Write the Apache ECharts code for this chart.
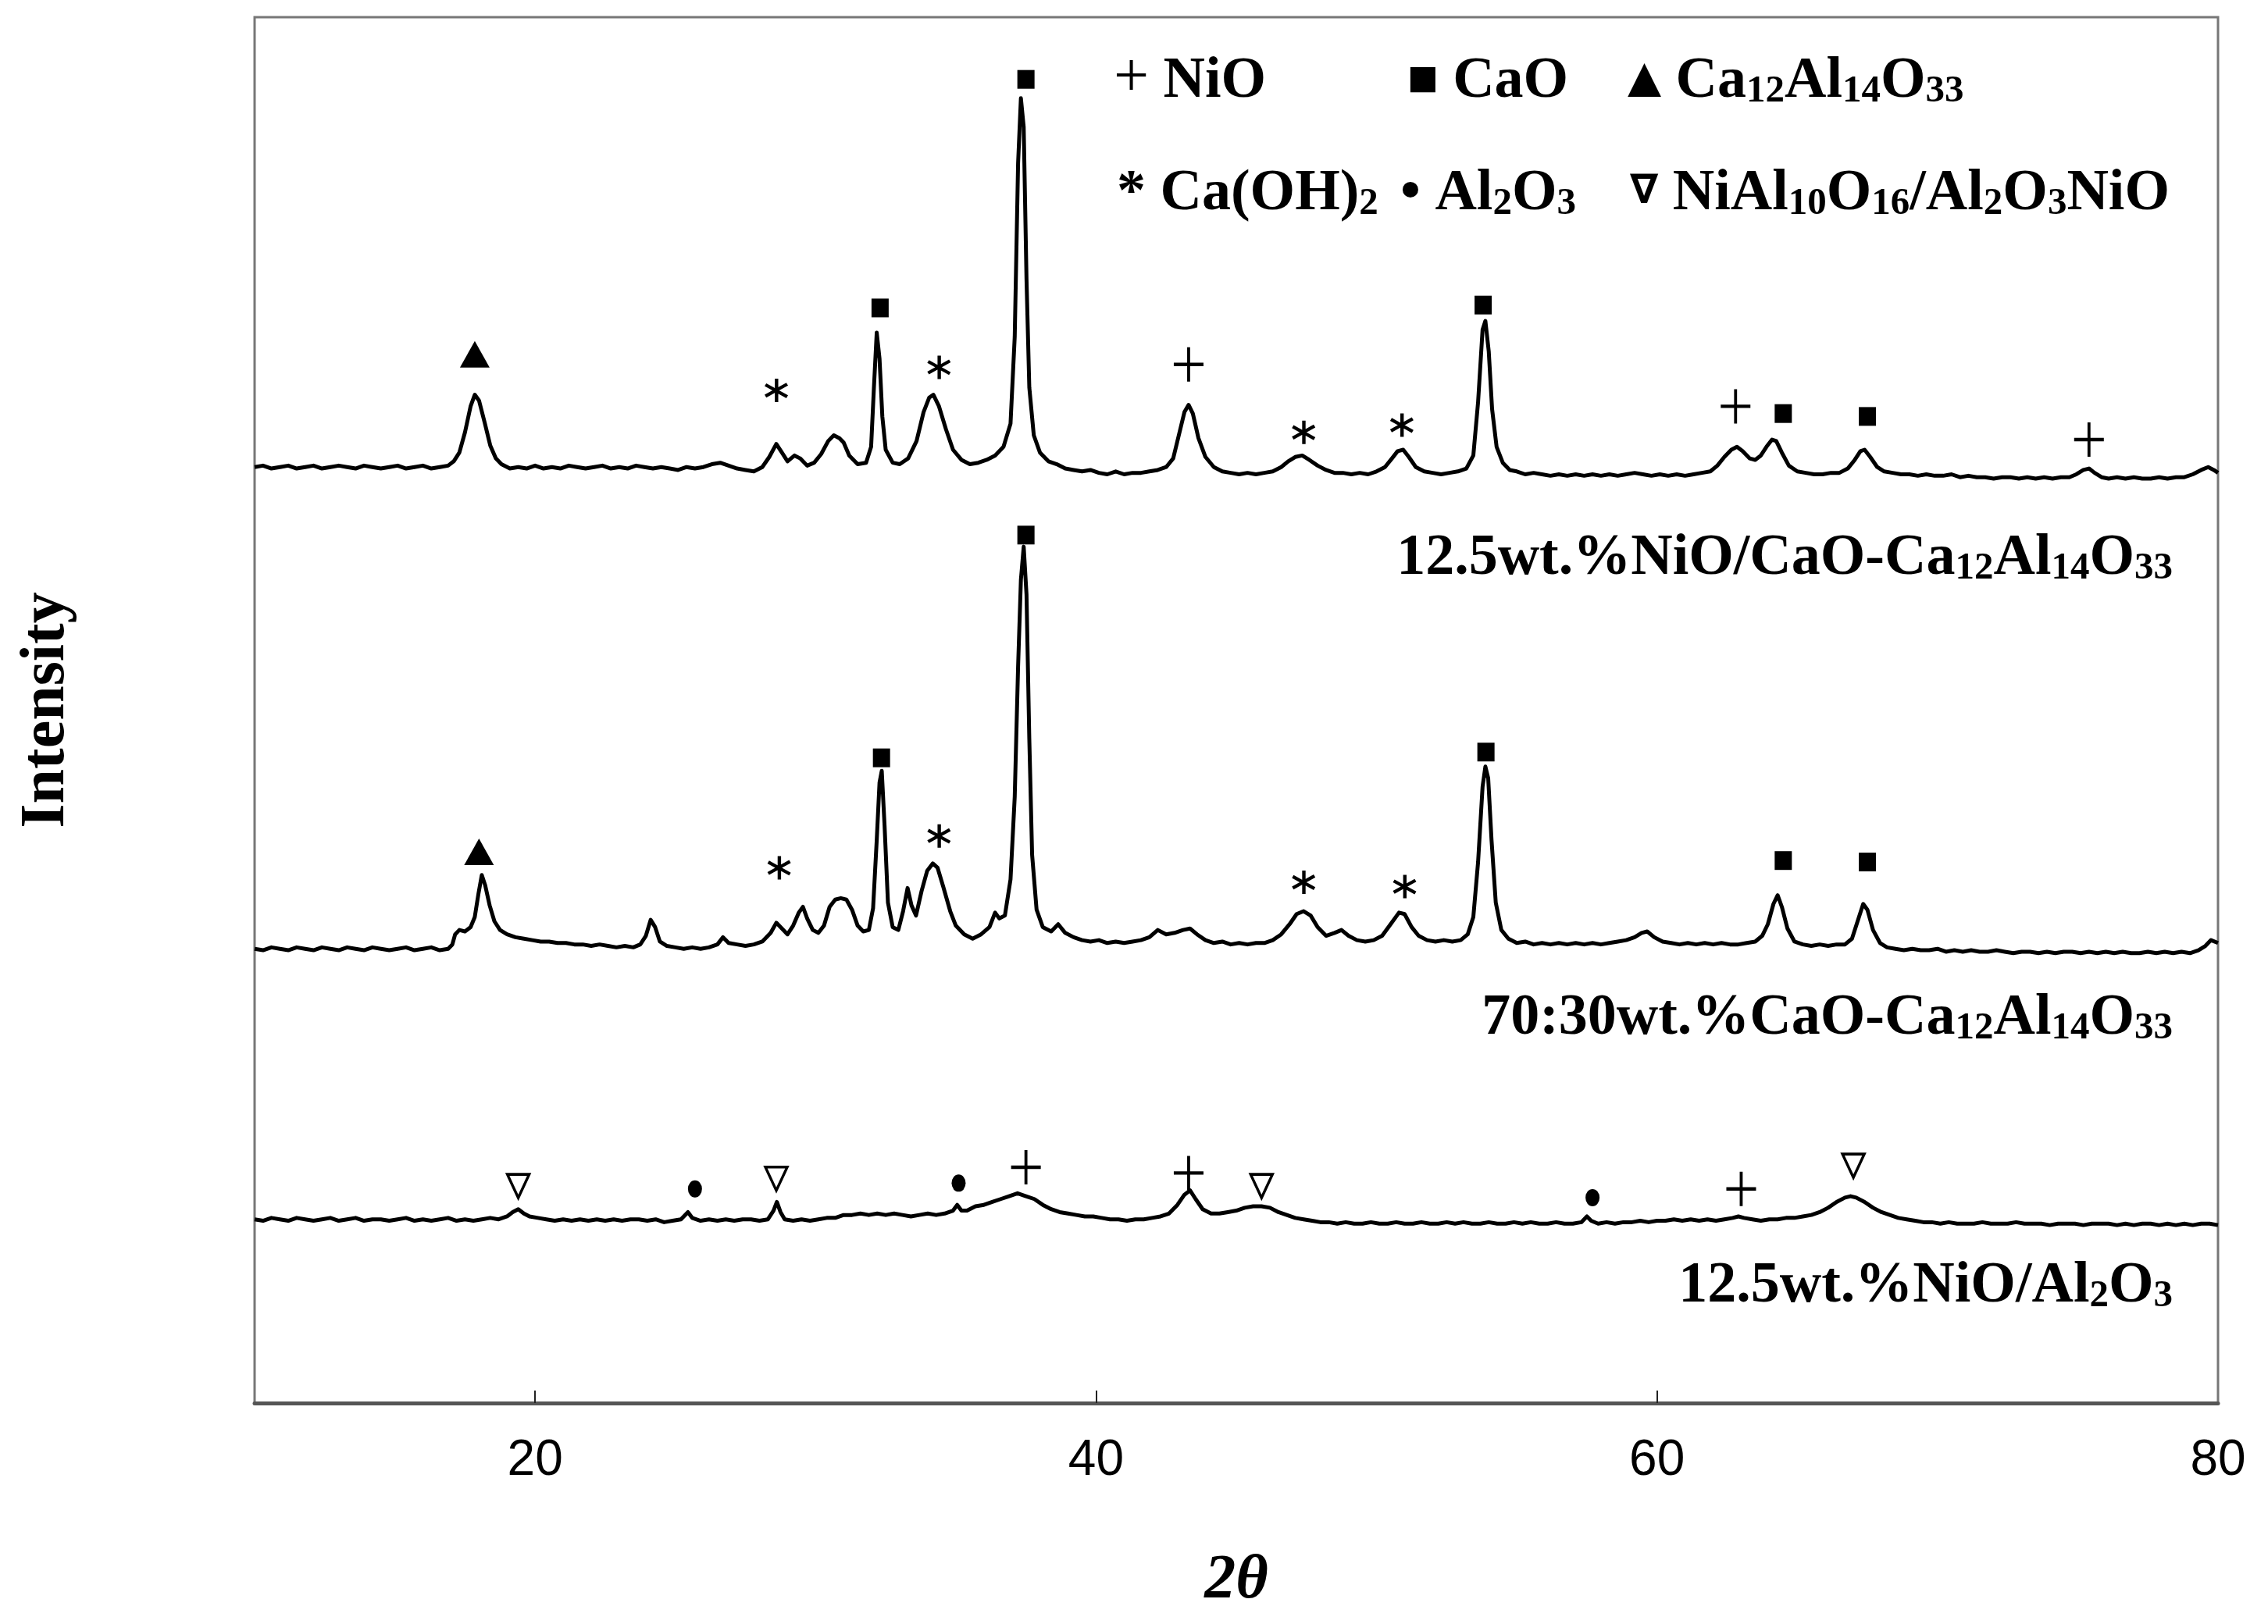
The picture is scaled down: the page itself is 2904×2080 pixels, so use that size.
<!DOCTYPE html>
<html><head><meta charset="utf-8">
<script src="https://cdn.jsdelivr.net/npm/echarts@6/dist/echarts.min.js"></script>
<style>html,body{margin:0;padding:0;background:#fff}#c{width:2904px;height:2080px}</style>
</head><body><div id="c"></div>
<script>
// ---------- DATA ----------
const xLabelValues = [20, 40, 60, 80];
const xTickValues = [20, 40, 60];
const sampleNames = ['12.5wt.%NiO/CaO-Ca12Al14O33', '70:30wt.%CaO-Ca12Al14O33', '12.5wt.%NiO/Al2O3'];
// vertical offsets of the stacked patterns (a.u.)
const offsets = [647, 314, 127];

// 12.5wt.% NiO/CaO-Ca12Al14O33  [2θ, intensity a.u.]
const patNiOCaOC12A7 = [[10.0,0],[10.3,1],[10.6,-1],[10.9,0],[11.2,1],[11.5,-1],[11.8,0],[12.1,1],[12.4,-1],[12.7,0],[13.0,1],[13.3,0],[13.6,-1],[13.9,1],[14.2,0],[14.5,-1],[14.8,0],[15.1,1],[15.4,-1],[15.7,0],[16.0,1],[16.3,-1],[16.6,0],[16.9,1],[17.1,4],[17.3,10],[17.5,24],[17.7,42],[17.85,50],[18.0,46],[18.2,31],[18.4,15],[18.6,6],[18.8,2],[19.1,-1],[19.4,0],[19.7,-1],[20.0,1],[20.3,-1],[20.6,0],[20.9,-1],[21.2,1],[21.5,0],[21.8,-1],[22.1,0],[22.4,1],[22.7,-1],[23.0,0],[23.3,-1],[23.6,1],[23.9,0],[24.2,-1],[24.5,0],[24.8,-1],[25.1,-2],[25.4,0],[25.7,-1],[26.0,0],[26.3,2],[26.6,3],[26.9,1],[27.2,-1],[27.5,-2],[27.8,-3],[28.1,0],[28.35,7],[28.6,16],[28.8,10],[29.0,4],[29.25,8],[29.45,6],[29.7,1],[29.95,3],[30.2,9],[30.45,18],[30.65,22],[30.85,20],[31.0,17],[31.2,8],[31.5,2],[31.8,3],[31.98,14],[32.08,55],[32.18,93],[32.28,75],[32.38,35],[32.5,12],[32.75,3],[33.0,2],[33.3,6],[33.6,18],[33.85,38],[34.05,48],[34.2,50],[34.4,42],[34.65,26],[34.9,12],[35.2,5],[35.5,2],[35.8,3],[36.1,5],[36.4,8],[36.7,14],[36.95,30],[37.1,90],[37.22,210],[37.32,255],[37.42,235],[37.52,130],[37.62,55],[37.78,22],[38.0,10],[38.3,4],[38.6,2],[38.9,-1],[39.2,-2],[39.5,-3],[39.8,-2],[40.1,-4],[40.4,-5],[40.7,-3],[41.0,-5],[41.3,-4],[41.6,-4],[41.9,-3],[42.2,-2],[42.5,0],[42.75,6],[42.95,22],[43.15,38],[43.3,43],[43.45,37],[43.65,20],[43.9,7],[44.2,0],[44.5,-3],[44.8,-4],[45.1,-5],[45.4,-4],[45.7,-5],[46.0,-4],[46.3,-3],[46.6,0],[46.85,4],[47.1,7],[47.35,8],[47.6,5],[47.9,1],[48.2,-2],[48.5,-4],[48.8,-4],[49.1,-5],[49.4,-4],[49.7,-5],[50.0,-3],[50.3,0],[50.55,6],[50.75,11],[50.95,12],[51.15,7],[51.4,0],[51.7,-3],[52.0,-4],[52.3,-5],[52.6,-4],[52.9,-3],[53.2,-1],[53.45,8],[53.62,45],[53.78,95],[53.88,101],[54.0,80],[54.12,40],[54.28,14],[54.5,3],[54.75,-2],[55.0,-3],[55.3,-5],[55.6,-4],[55.9,-5],[56.2,-6],[56.5,-5],[56.8,-6],[57.1,-5],[57.4,-6],[57.7,-5],[58.0,-6],[58.3,-5],[58.6,-6],[58.9,-5],[59.2,-4],[59.5,-5],[59.8,-6],[60.1,-5],[60.4,-6],[60.7,-5],[61.0,-6],[61.3,-5],[61.6,-4],[61.9,-3],[62.15,1],[62.4,7],[62.65,12],[62.85,14],[63.05,11],[63.3,6],[63.5,5],[63.7,8],[63.9,14],[64.1,19],[64.25,18],[64.45,10],[64.7,1],[65.0,-3],[65.3,-4],[65.6,-5],[65.9,-5],[66.2,-4],[66.5,-4],[66.8,-1],[67.05,5],[67.25,11],[67.4,12],[67.6,7],[67.85,0],[68.1,-3],[68.4,-4],[68.7,-5],[69.0,-5],[69.3,-6],[69.6,-5],[69.9,-6],[70.2,-6],[70.5,-5],[70.8,-7],[71.1,-6],[71.4,-7],[71.7,-7],[72.0,-8],[72.3,-7],[72.6,-7],[72.9,-8],[73.2,-7],[73.5,-8],[73.8,-7],[74.1,-8],[74.4,-7],[74.7,-7],[74.95,-5],[75.2,-2],[75.4,-1],[75.6,-4],[75.85,-7],[76.1,-8],[76.4,-7],[76.7,-8],[77.0,-7],[77.3,-8],[77.6,-8],[77.9,-7],[78.2,-8],[78.5,-7],[78.8,-7],[79.1,-5],[79.4,-2],[79.65,0],[79.85,-2],[80.0,-4]];

// 70:30wt.% CaO-Ca12Al14O33
const patCaOC12A7 = [[10.0,0],[10.3,-1],[10.6,1],[10.9,0],[11.2,-1],[11.5,1],[11.8,0],[12.1,-1],[12.4,1],[12.7,0],[13.0,-1],[13.3,1],[13.6,0],[13.9,-1],[14.2,1],[14.5,0],[14.8,-1],[15.1,0],[15.4,1],[15.7,-1],[16.0,0],[16.3,1],[16.6,-1],[16.9,0],[17.05,3],[17.15,10],[17.3,13],[17.5,12],[17.7,15],[17.85,22],[17.98,38],[18.1,51],[18.22,44],[18.38,30],[18.55,19],[18.75,13],[19.0,10],[19.3,8],[19.6,7],[19.9,6],[20.2,5],[20.5,5],[20.8,4],[21.1,4],[21.4,3],[21.7,3],[22.0,2],[22.3,3],[22.6,2],[22.9,1],[23.2,2],[23.5,1],[23.75,3],[23.95,9],[24.12,20],[24.28,15],[24.45,5],[24.7,2],[25.0,1],[25.3,0],[25.6,1],[25.9,0],[26.2,1],[26.5,3],[26.7,8],[26.9,4],[27.2,3],[27.5,2],[27.8,3],[28.1,5],[28.4,11],[28.6,18],[28.8,14],[29.0,10],[29.2,16],[29.4,25],[29.55,29],[29.7,21],[29.9,13],[30.1,11],[30.3,16],[30.5,29],[30.7,34],[30.9,35],[31.1,34],[31.3,27],[31.5,16],[31.7,12],[31.9,13],[32.05,28],[32.18,75],[32.28,115],[32.36,123],[32.46,85],[32.58,32],[32.75,15],[32.95,13],[33.12,26],[33.28,42],[33.42,30],[33.58,23],[33.78,40],[33.98,54],[34.18,59],[34.35,56],[34.55,43],[34.8,26],[35.0,16],[35.3,10],[35.6,7],[35.9,10],[36.2,15],[36.4,25],[36.55,21],[36.75,23],[36.95,48],[37.1,105],[37.22,195],[37.32,255],[37.42,278],[37.52,245],[37.62,145],[37.72,65],[37.88,27],[38.1,15],[38.4,12],[38.65,17],[38.9,11],[39.2,8],[39.5,6],[39.8,5],[40.1,6],[40.4,4],[40.7,5],[41.0,4],[41.3,5],[41.6,6],[41.9,8],[42.2,13],[42.5,10],[42.8,11],[43.1,13],[43.35,14],[43.6,10],[43.9,6],[44.2,4],[44.5,5],[44.8,3],[45.1,4],[45.4,3],[45.7,4],[46.0,4],[46.3,6],[46.6,10],[46.9,17],[47.15,24],[47.4,26],[47.65,23],[47.9,15],[48.2,9],[48.5,11],[48.75,13],[49.0,9],[49.3,6],[49.6,5],[49.9,6],[50.2,9],[50.5,17],[50.8,25],[51.0,24],[51.25,15],[51.5,9],[51.8,6],[52.1,5],[52.4,6],[52.7,5],[53.0,6],[53.25,10],[53.45,22],[53.62,60],[53.78,112],[53.88,126],[53.98,118],[54.1,75],[54.25,32],[54.45,13],[54.7,7],[55.0,4],[55.3,5],[55.6,3],[55.9,4],[56.2,3],[56.5,4],[56.8,3],[57.1,4],[57.4,3],[57.7,4],[58.0,3],[58.3,4],[58.6,5],[58.9,6],[59.2,8],[59.45,11],[59.65,12],[59.9,8],[60.2,5],[60.5,4],[60.8,3],[61.1,4],[61.4,3],[61.7,4],[62.0,3],[62.3,4],[62.6,3],[62.9,3],[63.2,4],[63.5,5],[63.75,9],[63.95,17],[64.15,31],[64.3,37],[64.45,29],[64.65,14],[64.9,5],[65.2,3],[65.5,2],[65.8,3],[66.1,2],[66.4,3],[66.7,3],[66.95,7],[67.15,19],[67.35,31],[67.5,27],[67.7,13],[67.95,4],[68.2,1],[68.5,0],[68.8,-1],[69.1,0],[69.4,-1],[69.7,-1],[70.0,0],[70.3,-2],[70.6,-1],[70.9,-2],[71.2,-1],[71.5,-2],[71.8,-2],[72.1,-1],[72.4,-2],[72.7,-3],[73.0,-2],[73.3,-2],[73.6,-3],[73.9,-2],[74.2,-3],[74.5,-2],[74.8,-2],[75.1,-3],[75.4,-2],[75.7,-3],[76.0,-2],[76.3,-3],[76.6,-2],[76.9,-3],[77.2,-3],[77.5,-2],[77.8,-3],[78.1,-2],[78.4,-3],[78.7,-2],[79.0,-3],[79.3,-1],[79.55,2],[79.75,6],[80.0,4]];

// 12.5wt.% NiO/Al2O3
const patNiOAl2O3 = [[10.0,0],[10.3,-1],[10.6,1],[10.9,0],[11.2,-1],[11.5,1],[11.8,0],[12.1,-1],[12.4,0],[12.7,1],[13.0,-1],[13.3,0],[13.6,1],[13.9,-1],[14.2,0],[14.5,0],[14.8,-1],[15.1,0],[15.4,1],[15.7,-1],[16.0,0],[16.3,-1],[16.6,0],[16.9,1],[17.2,-1],[17.5,0],[17.8,-1],[18.1,0],[18.4,1],[18.7,0],[19.0,2],[19.2,5],[19.4,7],[19.6,4],[19.8,2],[20.1,1],[20.4,0],[20.7,-1],[21.0,0],[21.3,-1],[21.6,0],[21.9,-1],[22.2,0],[22.5,-1],[22.8,0],[23.1,-1],[23.4,0],[23.7,0],[24.0,-1],[24.3,0],[24.6,-2],[24.9,-1],[25.2,0],[25.45,5],[25.6,1],[25.9,-1],[26.2,0],[26.5,-1],[26.8,0],[27.1,-1],[27.4,0],[27.7,0],[28.0,-1],[28.3,0],[28.5,6],[28.62,12],[28.75,5],[28.9,0],[29.2,-1],[29.5,0],[29.8,-1],[30.1,0],[30.4,1],[30.7,1],[31.0,3],[31.3,3],[31.6,4],[31.9,3],[32.2,4],[32.5,3],[32.8,4],[33.1,3],[33.4,2],[33.7,3],[34.0,4],[34.3,3],[34.6,4],[34.9,6],[35.05,10],[35.2,6],[35.4,6],[35.7,9],[36.0,10],[36.3,12],[36.6,14],[36.9,16],[37.2,18],[37.5,16],[37.8,14],[38.1,10],[38.4,7],[38.7,5],[39.0,4],[39.3,3],[39.6,2],[39.9,2],[40.2,1],[40.5,0],[40.8,0],[41.1,-1],[41.4,0],[41.7,0],[42.0,1],[42.3,2],[42.6,4],[42.9,10],[43.15,17],[43.35,20],[43.55,14],[43.8,7],[44.1,4],[44.4,4],[44.7,5],[45.0,6],[45.3,8],[45.6,9],[45.9,9],[46.2,8],[46.5,5],[46.8,3],[47.1,1],[47.4,0],[47.7,-1],[48.0,-2],[48.3,-2],[48.6,-3],[48.9,-2],[49.2,-3],[49.5,-3],[49.8,-2],[50.1,-3],[50.4,-3],[50.7,-2],[51.0,-3],[51.3,-3],[51.6,-2],[51.9,-3],[52.2,-3],[52.5,-2],[52.8,-3],[53.1,-2],[53.4,-3],[53.7,-3],[54.0,-2],[54.3,-3],[54.6,-3],[54.9,-2],[55.2,-3],[55.5,-2],[55.8,-3],[56.1,-3],[56.4,-2],[56.7,-3],[57.0,-3],[57.3,-2],[57.5,2],[57.65,-1],[57.9,-3],[58.2,-2],[58.5,-3],[58.8,-2],[59.1,-2],[59.4,-1],[59.7,-2],[60.0,-1],[60.3,-1],[60.6,0],[60.9,-1],[61.2,0],[61.5,-1],[61.8,0],[62.1,-1],[62.4,0],[62.7,1],[62.9,2],[63.1,1],[63.4,0],[63.7,-1],[64.0,0],[64.3,0],[64.6,1],[64.9,1],[65.2,2],[65.5,3],[65.8,5],[66.1,8],[66.4,12],[66.7,15],[66.9,16],[67.1,15],[67.4,12],[67.7,8],[68.0,5],[68.3,3],[68.6,1],[68.9,0],[69.2,-1],[69.5,-2],[69.8,-2],[70.1,-3],[70.4,-2],[70.7,-3],[71.0,-3],[71.3,-3],[71.6,-2],[71.9,-3],[72.2,-3],[72.5,-3],[72.8,-2],[73.1,-3],[73.4,-3],[73.7,-3],[74.0,-4],[74.3,-3],[74.6,-3],[74.9,-3],[75.2,-4],[75.5,-3],[75.8,-3],[76.1,-3],[76.4,-4],[76.7,-3],[77.0,-4],[77.3,-3],[77.6,-3],[77.9,-4],[78.2,-3],[78.5,-4],[78.8,-3],[79.1,-4],[79.4,-3],[79.7,-3],[80.0,-4]];

// phase markers [2θ, stacked intensity a.u.]
const markNiO = [[43.3,718],[62.8,689],[75.4,666],[37.5,163],[43.3,159],[63.0,148]];
const markCaO = [[32.3,757],[37.5,915],[53.8,759],[64.5,684],[67.5,682],[32.35,446],[37.5,600],[53.9,450],[64.5,375],[67.5,374]];
const markC12A7 = [[17.85,725],[18.0,381]];
const markCaOH2 = [[28.6,700],[34.4,716],[47.4,671],[50.9,676],[28.7,370],[34.4,392],[47.4,360],[51.0,357]];
const markAl2O3 = [[25.7,148],[35.1,152],[57.7,142]];
const markNiAl = [[19.4,150],[28.6,155],[45.9,150],[67.0,164]];

// ---------- CHART ----------
const patterns = [patNiOCaOC12A7, patCaOC12A7, patNiOAl2O3];
const serif = 'Liberation Serif, "Times New Roman", serif';
const R = {
  a:  {fontFamily: serif, fontWeight: 'bold', fontSize: 74, lineHeight: 80, verticalAlign: 'bottom', color: '#000'},
  s:  {fontFamily: serif, fontWeight: 'bold', fontSize: 49, lineHeight: 40, verticalAlign: 'bottom', color: '#000'},
  pl: {fontFamily: serif, fontWeight: 'normal', fontSize: 80, lineHeight: 80, verticalAlign: 'bottom', color: '#000'},
  sq: {fontFamily: '"DejaVu Sans"', fontSize: 42, lineHeight: 80, verticalAlign: 'middle', color: '#000'},
  tr: {fontFamily: '"DejaVu Sans"', fontSize: 56, lineHeight: 80, verticalAlign: 'middle', color: '#000'},
  nb: {fontFamily: '"DejaVu Sans"', fontWeight: 'bold', fontSize: 52, lineHeight: 80, verticalAlign: 'middle', color: '#000'}
};
function txt(x, y, text, align) {
  return {type: 'text', x: x, y: y, z: 20, silent: true,
    style: {text: text, rich: R, align: align, verticalAlign: 'middle', textAlign: align, textVerticalAlign: 'middle', fill: '#000'}};
}
function chem(s) {
  // wrap digits following a letter/parenthesis as subscripts
  return s.replace(/([A-Za-z\)])(\d+)/g, '$1}{s|$2}{a|').replace(/^/, '{a|').replace(/$/, '}').replace(/\{a\|\}/g, '');
}

const lineSeries = patterns.map((p, i) => ({
  type: 'line', name: sampleNames[i], data: p.map(d => [d[0], d[1] + offsets[i]]),
  showSymbol: false, symbol: 'none', smooth: false, silent: true,
  lineStyle: {color: '#000', width: 5, join: 'round'}, z: 3
}));
const asteriskPath = 'path://M8.6,0h2.8v20h-2.8z M1.6,3.9L19.4,14.2L18.0,16.6L0.2,6.3z M0.2,13.7L18.0,3.4L19.4,5.8L1.6,16.1z';
const crossPath = 'path://M9,0h2v20h-2z M0,9h20v2h-20z';
const mk = (name, data, symbol, size, extra) => Object.assign({
  type: 'scatter', name: name, data: data, symbol: symbol, symbolSize: size, silent: true, z: 6,
  itemStyle: {color: '#000', opacity: 1}
}, extra || {});

const option = {
  animation: false,
  backgroundColor: '#fff',
  grid: {left: 326, right: 64, top: 22, bottom: 283, show: true, borderColor: '#777', borderWidth: 3},
  xAxis: {
    type: 'value', min: 10, max: 80,
    axisLine: {show: true, onZero: false, lineStyle: {color: '#555', width: 5}},
    axisTick: {show: true, inside: true, length: 16, customValues: xTickValues, lineStyle: {color: '#222', width: 2}},
    axisLabel: {customValues: xLabelValues, fontFamily: '"Liberation Sans", Arial, sans-serif', fontSize: 64, color: '#000', margin: 42},
    splitLine: {show: false},
    name: '2θ', nameLocation: 'middle', nameGap: 188,
    nameTextStyle: {fontFamily: serif, fontWeight: 'bold', fontStyle: 'italic', fontSize: 80, color: '#000'}
  },
  yAxis: {
    type: 'value', min: 0, max: 958,
    axisLine: {show: false}, axisTick: {show: false}, axisLabel: {show: false}, splitLine: {show: false},
    name: 'Intensity', nameLocation: 'middle', nameRotate: 90, nameGap: 226,
    nameTextStyle: {fontFamily: serif, fontWeight: 'bold', fontSize: 80, color: '#000'}
  },
  series: lineSeries.concat([
    mk('NiO', markNiO, crossPath, [38, 44]),
    mk('CaO', markCaO, 'rect', [22, 24]),
    mk('Ca12Al14O33', markC12A7, 'triangle', [38, 34]),
    mk('Ca(OH)2', markCaOH2, asteriskPath, [30, 30]),
    mk('Al2O3', markAl2O3, 'circle', [18, 22]),
    mk('NiAl10O16/Al2O3NiO', markNiAl, 'triangle', [28, 30], {symbolRotate: 180, itemStyle: {color: '#fff', borderColor: '#000', borderWidth: 3.5, opacity: 1}})
  ]),
  graphic: [
    txt(1426, 102, '{pl|+}{a| NiO}', 'left'),
    txt(1802, 102, '{sq|■}{a| CaO}', 'left'),
    txt(2084, 102, '{tr|▲}{a| }' + chem('Ca12Al14O33'), 'left'),
    txt(1430, 246, '{a|* }' + chem('Ca(OH)2'), 'left'),
    txt(1793, 246, '{a|• }' + chem('Al2O3'), 'left'),
    txt(2087, 246, '{nb|∇}{a| }' + chem('NiAl10O16/Al2O3NiO'), 'left'),
    txt(2782, 713, chem(sampleNames[0]), 'right'),
    txt(2782, 1302, chem(sampleNames[1]), 'right'),
    txt(2782, 1645, chem(sampleNames[2]), 'right')
  ]
};
const chart = echarts.init(document.getElementById('c'));
chart.setOption(option);
</script>
</body></html>
